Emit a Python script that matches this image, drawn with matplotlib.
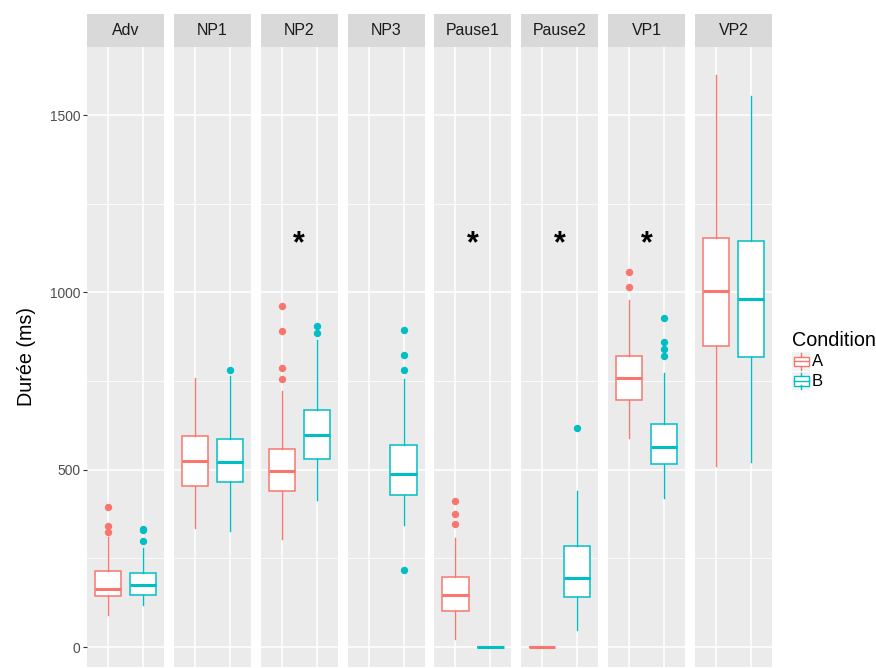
import matplotlib
matplotlib.use("Agg")
import matplotlib.pyplot as plt
from matplotlib.patches import Rectangle

plt.rcParams['font.family'] = ['Liberation Sans', 'DejaVu Sans']

facets = ['Adv', 'NP1', 'NP2', 'NP3', 'Pause1', 'Pause2', 'VP1', 'VP2']
conditions = ['A', 'B']
colors = {'A': '#F8766D', 'B': '#00BFC4'}

# whisker low, Q1, median, Q3, whisker high (ms); None = no data for that facet
summary_a = [
    [90, 145, 165, 214, 311],
    [336, 455, 524, 596, 760],
    [305, 440, 497, 560, 723],
    None,
    [22, 103, 147, 198, 309],
    [0, 0, 0, 0, 0],
    [589, 698, 759, 820, 979],
    [510, 848, 1004, 1154, 1613],
]
summary_b = [
    [120, 148, 174, 208, 280],
    [328, 466, 522, 588, 764],
    [414, 530, 599, 668, 866],
    [343, 430, 488, 570, 755],
    [0, 0, 0, 0, 0],
    [48, 142, 195, 285, 441],
    [420, 517, 564, 630, 772],
    [523, 818, 981, 1146, 1553],
]
outliers_a = [
    [324, 342, 396],
    [],
    [756, 788, 892, 961],
    [],
    [346, 376, 411],
    [],
    [1016, 1058],
    [],
]
outliers_b = [
    [299, 330, 332],
    [782],
    [886, 905],
    [218, 780, 824, 894],
    [],
    [619],
    [821, 840, 861, 927],
    [],
]
significant = ['NP2', 'Pause1', 'Pause2', 'VP1']
star_y = 1137

W, H = 876, 668
fig = plt.figure(figsize=(W / 100, H / 100), dpi=100)


def px(x0, y0, w, h):
    # pixel box (top-left origin) -> figure fraction rect
    return [x0 / W, 1 - (y0 + h) / H, w / W, h / H]


def make_stats(s, fl):
    return dict(whislo=s[0], q1=s[1], med=s[2], q3=s[3], whishi=s[4], fliers=fl)


panel_left, panel_w, step = 87, 77, 86.86
panel_top, panel_bottom, strip_h = 47, 667, 33

for i, name in enumerate(facets):
    x0 = panel_left + i * step
    ax = fig.add_axes(px(x0, panel_top, panel_w, panel_bottom - panel_top))
    ax.set_facecolor('#EBEBEB')
    for sp in ax.spines.values():
        sp.set_visible(False)
    ax.set_xlim(0.4, 2.6)
    ax.set_ylim(-56, 1692)
    ax.set_xticks([1, 2])
    ax.set_yticks([0, 500, 1000, 1500])
    ax.set_yticks([250, 750, 1250], minor=True)
    ax.grid(which='major', color='white', lw=1.1)
    ax.grid(which='minor', axis='y', color='white', lw=0.55)
    ax.set_axisbelow(True)
    ax.tick_params(axis='x', length=0, labelbottom=False)
    ax.tick_params(axis='y', which='minor', length=0)
    if i == 0:
        ax.tick_params(axis='y', which='major', length=2.7, width=0.8, color='#333333',
                       labelcolor='#4D4D4D', labelsize=9.9, pad=2)
        ax.set_ylabel('Durée (ms)', fontsize=14.2, labelpad=10)
    else:
        ax.tick_params(axis='y', which='major', length=0, labelleft=False)

    for pos, cond, summ, outl in ((1, 'A', summary_a, outliers_a), (2, 'B', summary_b, outliers_b)):
        s = summ[i]
        if s is None:
            continue
        c = colors[cond]
        ax.bxp([make_stats(s, outl[i])], positions=[pos], widths=0.75,
               patch_artist=True, showcaps=False,
               boxprops=dict(facecolor='white', edgecolor=c, lw=1.1),
               medianprops=dict(color=c, lw=2.2, solid_capstyle='butt'),
               whiskerprops=dict(color=c, lw=1.0),
               flierprops=dict(marker='o', markerfacecolor=c, markeredgecolor=c, markersize=4.3))
    ax.set_xlim(0.4, 2.6)
    ax.set_xticks([1, 2])

    if name in significant:
        ax.text(1.5, star_y, '*', ha='center', va='center', fontsize=22, fontweight='bold')

    # facet strip
    sax = fig.add_axes(px(x0, panel_top - strip_h, panel_w, strip_h))
    sax.set_facecolor('#D9D9D9')
    sax.set_xticks([])
    sax.set_yticks([])
    for sp in sax.spines.values():
        sp.set_visible(False)
    sax.text(0.5, 0.5, name, ha='center', va='center', fontsize=11.4, color='#1A1A1A',
             transform=sax.transAxes)

# legend drawn in pixel space
lax = fig.add_axes(px(780, 320, 96, 80))
lax.set_xlim(780, 876)
lax.set_ylim(400, 320)
lax.axis('off')
lax.text(792, 340, 'Condition', fontsize=14.2, ha='left', va='center')
for k, cond in enumerate(conditions):
    c = colors[cond]
    ky = 352 + k * 19.5
    lax.add_patch(Rectangle((792, ky), 18, 18.5, facecolor='#F2F2F2', edgecolor='none'))
    lax.add_patch(Rectangle((793.5, ky + 4.5), 15, 9.5, facecolor='white', edgecolor=c, lw=1.0))
    lax.plot([793.5, 808.5], [ky + 9.25, ky + 9.25], color=c, lw=1.0)
    lax.plot([801, 801], [ky + 1, ky + 4.5], color=c, lw=1.0)
    lax.plot([801, 801], [ky + 14, ky + 17.5], color=c, lw=1.0)
    lax.text(812, ky + 9.8, cond, fontsize=12, ha='left', va='center')

fig.savefig('out.png', dpi=100)
